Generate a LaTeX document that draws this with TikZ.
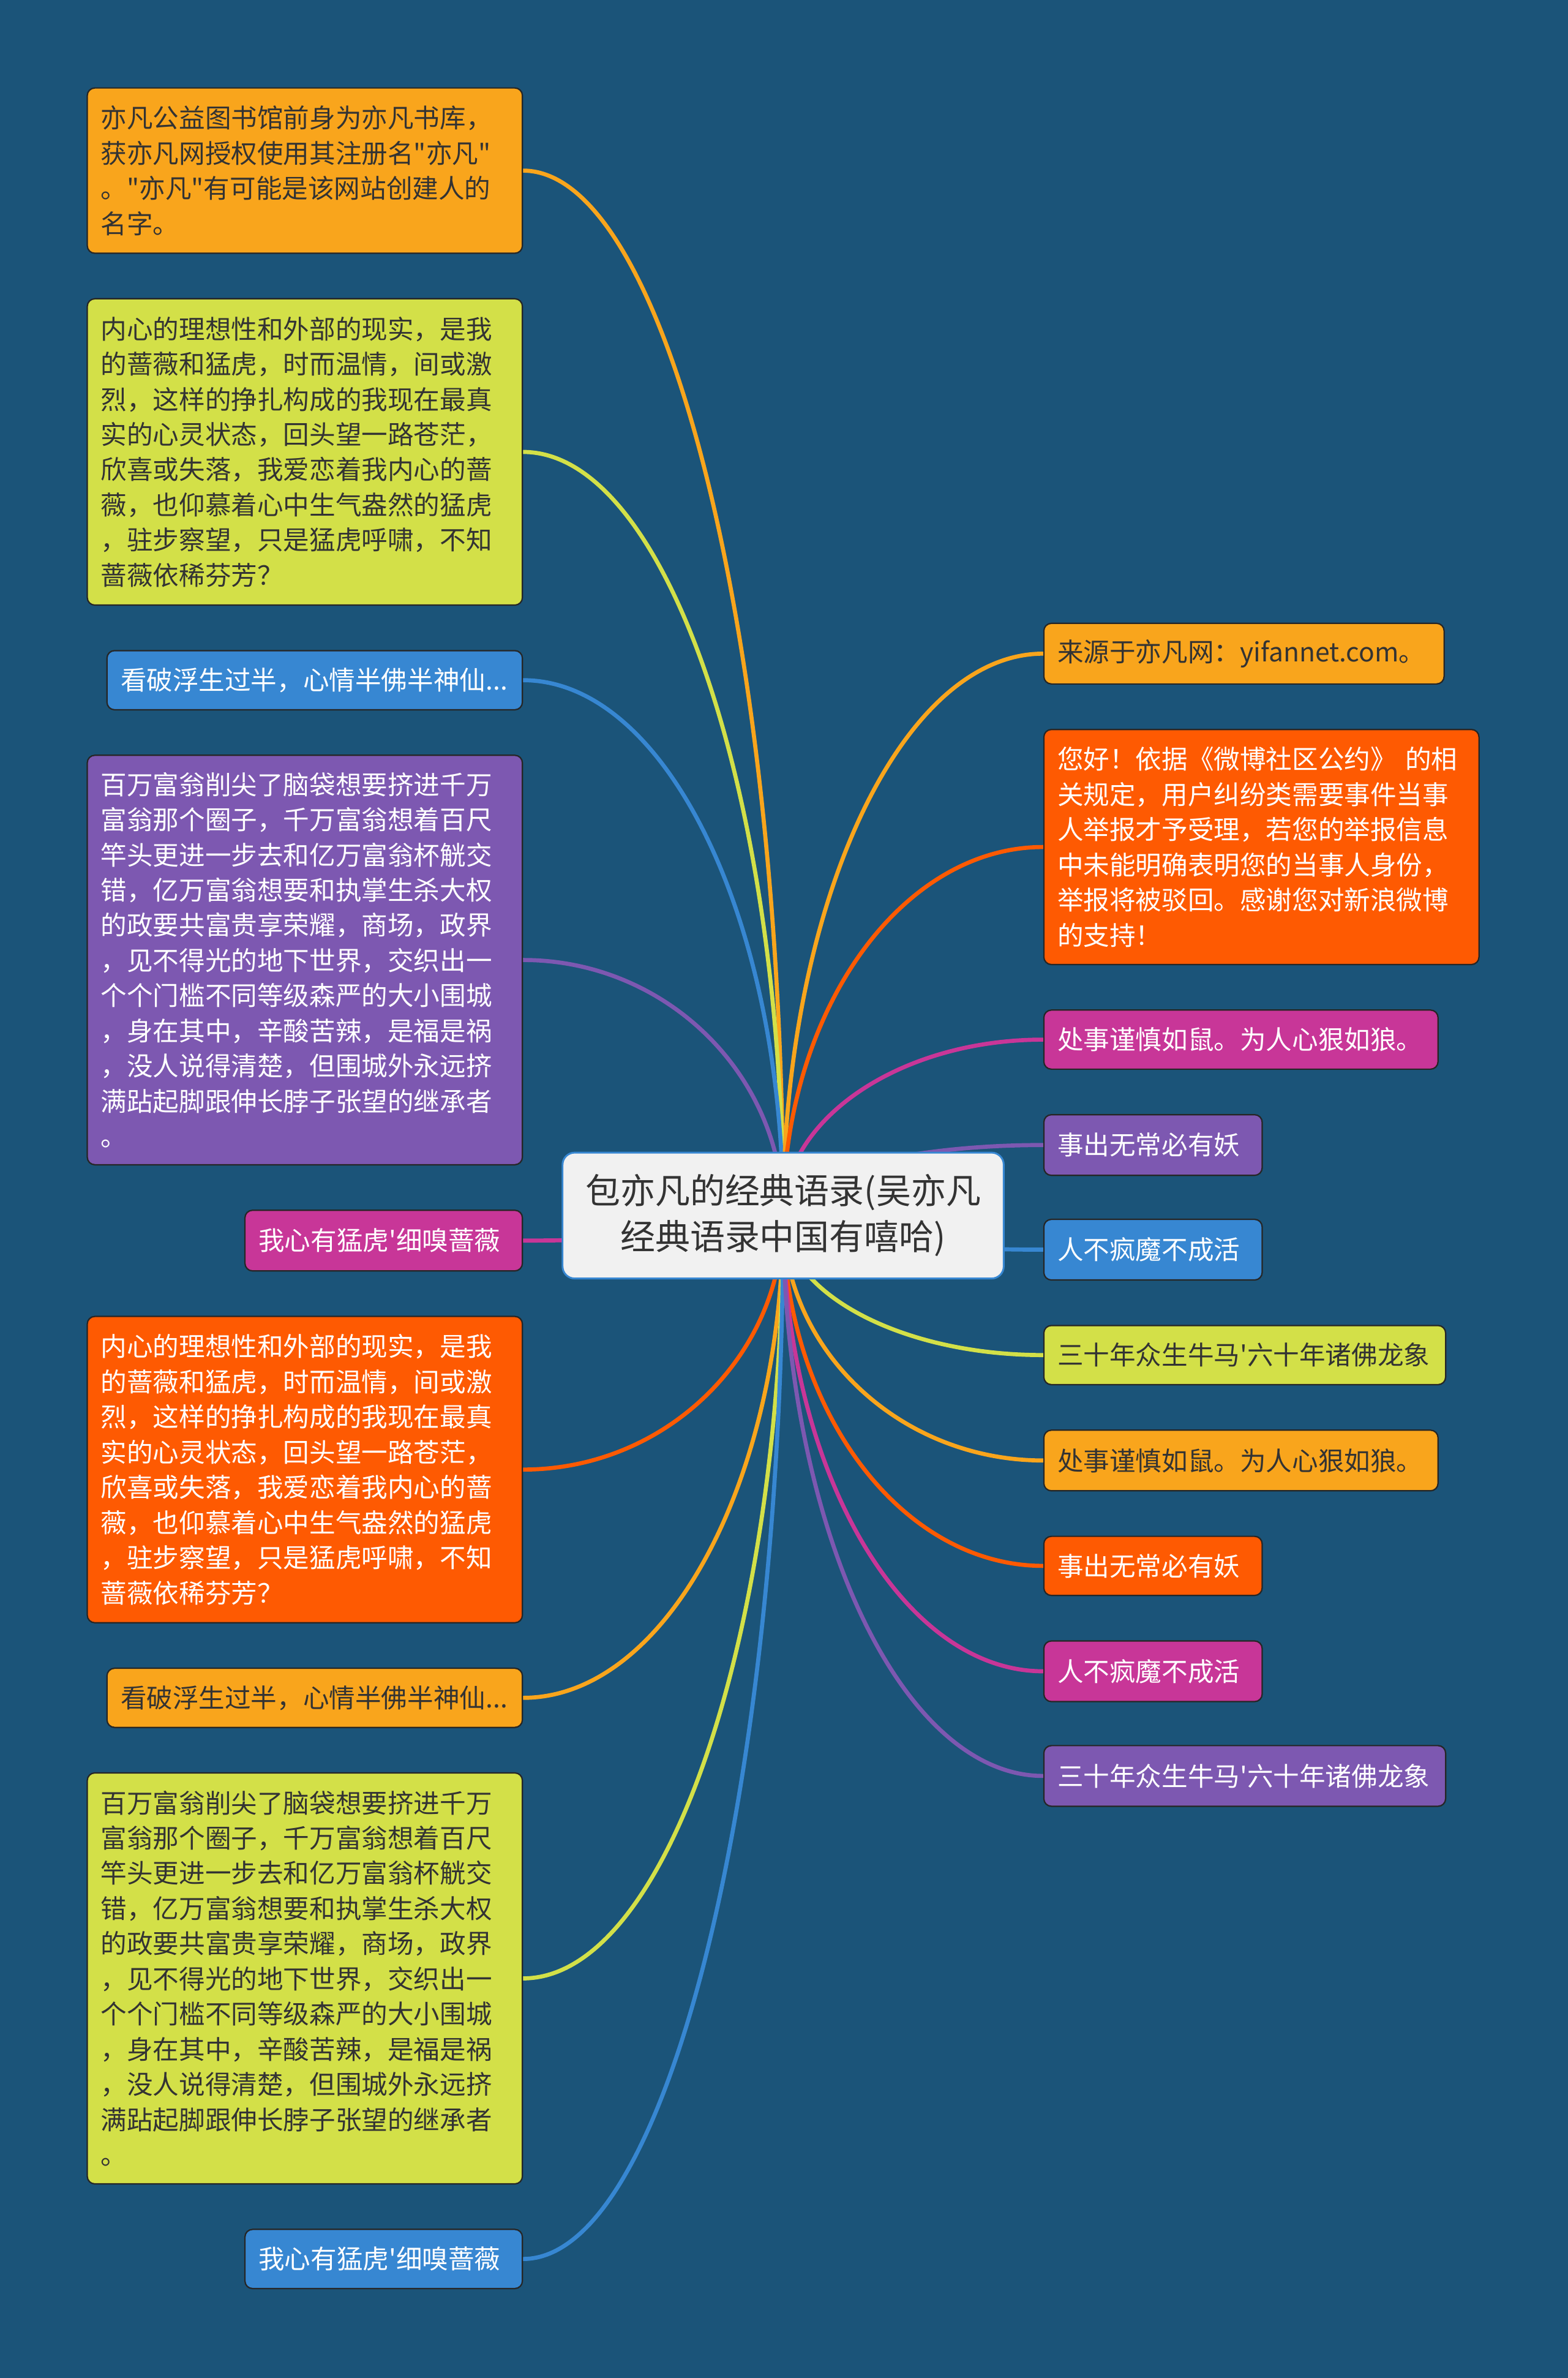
\documentclass[tikz,border=0pt]{standalone}
\usepackage{fontspec}
\newfontfamily\cjk{Noto Sans CJK SC}
\usetikzlibrary{calc}

\definecolor{bgblue}{HTML}{1B5479}
\definecolor{cOrange}{HTML}{F9A51C}
\definecolor{cRed}{HTML}{FE5A02}
\definecolor{cPink}{HTML}{C83698}
\definecolor{cPurple}{HTML}{7D58B1}
\definecolor{cBlue}{HTML}{3787D2}
\definecolor{cLime}{HTML}{D3E048}
\definecolor{ink}{HTML}{333333}
\definecolor{rootfill}{HTML}{F1F1F1}

\tikzset{
  leaf/.style={draw=black!85, line width=0.9pt, rounded corners=5pt,
    inner xsep=9pt, inner ysep=0pt, align=left,
    font=\cjk\fontsize{17.2}{23.2}\selectfont},
  orangebox/.style={leaf, fill=cOrange, text=ink},
  limebox/.style={leaf, fill=cLime, text=ink},
  redbox/.style={leaf, fill=cRed, text=white},
  pinkbox/.style={leaf, fill=cPink, text=white},
  purplebox/.style={leaf, fill=cPurple, text=white},
  bluebox/.style={leaf, fill=cBlue, text=white},
  root/.style={draw=cBlue, line width=1.2pt, fill=rootfill, text=ink,
    rounded corners=8pt, align=center, minimum width=291pt, minimum height=83pt,
    font=\cjk\fontsize{23}{30.3}\selectfont},
  branch/.style={line width=2.7pt},
}

% curved branch from the hub to a leaf side
\newcommand{\twig}[2]{%
  \draw[branch, #1] let \p1=(hub), \p2=(#2) in
    (\p1) .. controls (\x1,{\y1+0.55*(\y2-\y1)}) and ({\x2+0.55*(\x1-\x2)},\y2) .. (\p2);
}

\begin{document}
\begin{tikzpicture}[x=1pt, y=-1pt]
    \useasboundingbox (0,0) rectangle (1034,1568);
    \fill[bgblue] (0,0) rectangle (1034,1568);

    \coordinate (hub) at (516.5,801.5);

    % left side
    \node[orangebox, text width=269pt, minimum height=109pt, anchor=east] (L1) at (345,112.5) {亦凡公益图书馆前身为亦凡书库，\\获亦凡网授权使用其注册名"亦凡"\\。"亦凡"有可能是该网站创建人的\\名字。};
    \node[limebox, text width=269pt, minimum height=202pt, anchor=east] (L2) at (345,298) {内心的理想性和外部的现实，是我\\的蔷薇和猛虎，时而温情，间或激\\烈，这样的挣扎构成的我现在最真\\实的心灵状态，回头望一路苍茫，\\欣喜或失落，我爱恋着我内心的蔷\\薇，也仰慕着心中生气盎然的猛虎\\，驻步察望，只是猛虎呼啸，不知\\蔷薇依稀芬芳？};
    \node[bluebox, text width=256pt, minimum height=39pt, anchor=east] (L3) at (345,448.5) {看破浮生过半，心情半佛半神仙...};
    \node[purplebox, text width=269pt, minimum height=270pt, anchor=east] (L4) at (345,633) {百万富翁削尖了脑袋想要挤进千万\\富翁那个圈子，千万富翁想着百尺\\竿头更进一步去和亿万富翁杯觥交\\错，亿万富翁想要和执掌生杀大权\\的政要共富贵享荣耀，商场，政界\\，见不得光的地下世界，交织出一\\个个门槛不同等级森严的大小围城\\，身在其中，辛酸苦辣，是福是祸\\，没人说得清楚，但围城外永远挤\\满跕起脚跟伸长脖子张望的继承者\\。};
    \node[pinkbox, text width=165pt, minimum height=40pt, anchor=east] (L5) at (345,818) {我心有猛虎'细嗅蔷薇};
    \node[redbox, text width=269pt, minimum height=202pt, anchor=east] (L6) at (345,969) {内心的理想性和外部的现实，是我\\的蔷薇和猛虎，时而温情，间或激\\烈，这样的挣扎构成的我现在最真\\实的心灵状态，回头望一路苍茫，\\欣喜或失落，我爱恋着我内心的蔷\\薇，也仰慕着心中生气盎然的猛虎\\，驻步察望，只是猛虎呼啸，不知\\蔷薇依稀芬芳？};
    \node[orangebox, text width=256pt, minimum height=39pt, anchor=east] (L7) at (345,1119.5) {看破浮生过半，心情半佛半神仙...};
    \node[limebox, text width=269pt, minimum height=271pt, anchor=east] (L8) at (345,1304.5) {百万富翁削尖了脑袋想要挤进千万\\富翁那个圈子，千万富翁想着百尺\\竿头更进一步去和亿万富翁杯觥交\\错，亿万富翁想要和执掌生杀大权\\的政要共富贵享荣耀，商场，政界\\，见不得光的地下世界，交织出一\\个个门槛不同等级森严的大小围城\\，身在其中，辛酸苦辣，是福是祸\\，没人说得清楚，但围城外永远挤\\满跕起脚跟伸长脖子张望的继承者\\。};
    \node[bluebox, text width=165pt, minimum height=39pt, anchor=east] (L9) at (345,1489.5) {我心有猛虎'细嗅蔷薇};

    % right side
    \node[orangebox, text width=246pt, minimum height=40pt, anchor=west] (R1) at (688,431) {来源于亦凡网：yifannet.com。};
    \node[redbox, text width=269pt, minimum height=155pt, anchor=west] (R2) at (688,558.5) {您好！依据《微博社区公约》 的相\\关规定，用户纠纷类需要事件当事\\人举报才予受理，若您的举报信息\\中未能明确表明您的当事人身份，\\举报将被驳回。感谢您对新浪微博\\的支持！};
    \node[pinkbox, text width=242pt, minimum height=39pt, anchor=west] (R3) at (688,685.5) {处事谨慎如鼠。为人心狠如狼。};
    \node[purplebox, text width=126pt, minimum height=40pt, anchor=west] (R4) at (688,755) {事出无常必有妖};
    \node[bluebox, text width=126pt, minimum height=40pt, anchor=west] (R5) at (688,824) {人不疯魔不成活};
    \node[limebox, text width=247pt, minimum height=39pt, anchor=west] (R6) at (688,893.5) {三十年众生牛马'六十年诸佛龙象};
    \node[orangebox, text width=242pt, minimum height=40pt, anchor=west] (R7) at (688,963) {处事谨慎如鼠。为人心狠如狼。};
    \node[redbox, text width=126pt, minimum height=39pt, anchor=west] (R8) at (688,1032.5) {事出无常必有妖};
    \node[pinkbox, text width=126pt, minimum height=40pt, anchor=west] (R9) at (688,1102) {人不疯魔不成活};
    \node[purplebox, text width=247pt, minimum height=40pt, anchor=west] (R10) at (688,1171) {三十年众生牛马'六十年诸佛龙象};

    % branches
    \twig{cOrange}{L1.east}
    \twig{cLime}{L2.east}
    \twig{cBlue}{L3.east}
    \twig{cPurple}{L4.east}
    \twig{cPink}{L5.east}
    \twig{cRed}{L6.east}
    \twig{cOrange}{L7.east}
    \twig{cLime}{L8.east}
    \twig{cBlue}{L9.east}
    \twig{cOrange}{R1.west}
    \twig{cRed}{R2.west}
    \twig{cPink}{R3.west}
    \twig{cPurple}{R4.west}
    \twig{cBlue}{R5.west}
    \twig{cLime}{R6.west}
    \twig{cOrange}{R7.west}
    \twig{cRed}{R8.west}
    \twig{cPink}{R9.west}
    \twig{cPurple}{R10.west}

    % central topic on top of the branches
    \node[root] (main) at (hub) {包亦凡的经典语录(吴亦凡\\经典语录中国有嘻哈)};
\end{tikzpicture}
\end{document}
